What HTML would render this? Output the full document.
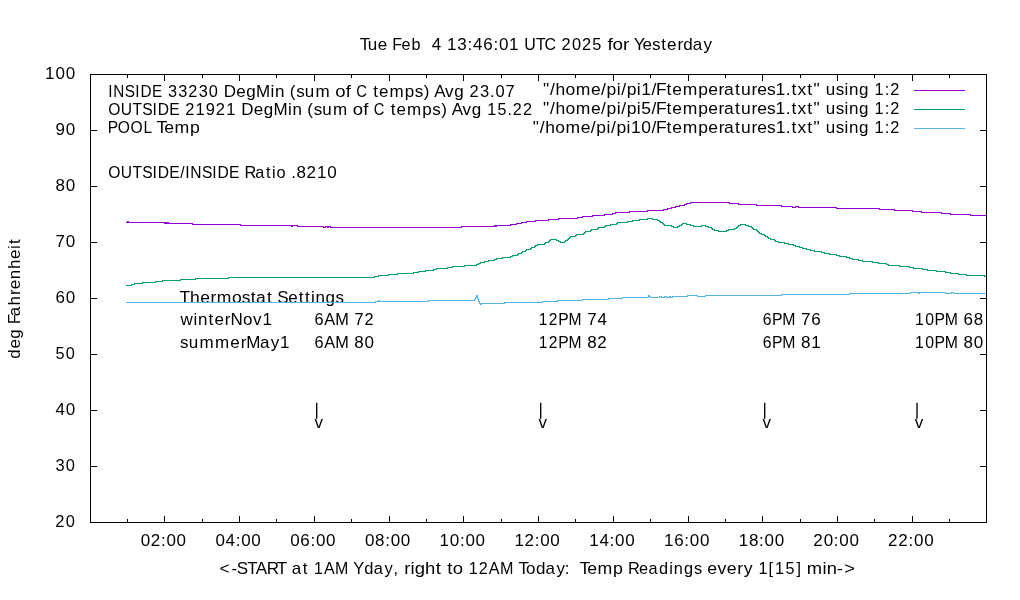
<!DOCTYPE html>
<html><head><meta charset="utf-8"><title>Temperatures</title>
<style>html,body{margin:0;padding:0;background:#fff;overflow:hidden}svg{display:block;will-change:transform}text{font-family:"Liberation Sans", sans-serif;font-size:17px;fill:#000;white-space:pre}</style>
</head><body>
<svg width="1020" height="600" viewBox="0 0 1020 600">
<rect width="1020" height="600" fill="#fff"/>
<g id="labels">
<g transform="translate(107.9 97)">
<text transform="scale(0.9 1)" x="0.28 5.82 18.76 30.28 36.09 49 60.34">INSIDE </text>
<text transform="scale(0.96 1)" x="62.53 73.19 83.63 94.53 105.18 115.24">33230 </text>
<text x="115.84 128.4 138.33 148.13 162.51 167.03 176.82">DegMin </text>
<text x="181.82 188.27 196.95 207.61 222.48">(sum </text>
<text transform="scale(1.09 1)" x="208.61 218.26 223.05">of </text>
<text transform="scale(0.87 1)" x="285.55 298.24">C </text>
<text x="265.34 271.15 281.6 296.97 306.76 315.82 321.37">temps) </text>
<text x="326.31 337.07 346.37 356.3">Avg </text>
<text transform="scale(0.97 1)" x="372.91 383.72 393.97 399.53 410.04">23.07</text>
</g>
<g transform="translate(107.9 115)">
<text transform="scale(0.92 1)" x="0.28 14.04 26.72 37.24 48.59 54.18 66.82 78.05">OUTSIDE </text>
<text transform="scale(0.97 1)" x="79.64 90.32 100.92 111.3 122 132.09">21921 </text>
<text x="133.33 145.89 155.82 165.62 180.01 184.52 194.32">DegMin </text>
<text x="199.32 205.77 214.44 225.11 239.98">(sum </text>
<text transform="scale(1.09 1)" x="224.66 234.31 239.1">of </text>
<text transform="scale(0.87 1)" x="305.66 318.35">C </text>
<text x="282.84 288.65 299.1 314.46 324.26 333.32 338.86">temps) </text>
<text x="343.81 354.56 363.86 373.79">Avg </text>
<text transform="scale(0.95 1)" x="399.42 410.22 420.73 426.23 437">15.22</text>
</g>
<g transform="translate(107.9 133)">
<text transform="scale(0.92 1)" x="-0.08 10.82 24.59 38.63 47.84">POOL </text>
<text transform="scale(1.04 1)" x="46.77 54.13 64.08 78.93">Temp</text>
</g>
<g transform="translate(107.9 177.6)">
<text transform="scale(0.92 1)" x="0.28 14.04 26.72 37.24 48.59 54.18 66.82 78.63 84.16 89.5 102.17 113.51 119.1 131.76 142.99">OUTSIDE/INSIDE </text>
<text transform="scale(0.96 1)" x="142.32 153.43 164.8 170.93 175.56 185.4">Ratio </text>
<text x="183.3 188.61 198.64 209 219.34">.8210</text>
</g>
<g transform="translate(180 303)">
<text transform="scale(1.03 1)" x="-0.42 9.77 19.55 29.72 35.78 50.49 59.92 68.8 73.72 84.5 89.96">Thermostat </text>
<text x="97.31 108.26 118.66 124.96 130.88 135.4 145.48 155.47">Settings</text>
</g>
<g transform="translate(180 325.4)">
<text x="0.44 13.51 18.04 28.59 34.4 44.83 50.54 62.9 73.07 82.39">winterNov1</text>
</g>
<g transform="translate(180 347.8)">
<text x="0.06 8.72 19.38 35.07 50.19 60.63 66.33 79.95 90.72 100.04">summerMay1</text>
</g>
<g transform="translate(314 325.4)">
<text transform="scale(0.96 1)" x="0.57 10.62 22.12 36.38">6AM </text>
<text transform="scale(0.96 1)" x="42.22 52.63">72</text>
</g>
<g transform="translate(314 347.8)">
<text transform="scale(0.96 1)" x="0.57 10.62 22.12 36.38">6AM </text>
<text x="40.37 50.55">80</text>
</g>
<g transform="translate(314 428.4)">
<text x="0.51">v</text>
</g>
<g transform="translate(538 325.4)">
<text transform="scale(0.92 1)" x="0.73 11.63 22.01 33.03 47.62">12PM </text>
<text x="49.22 59.44">74</text>
</g>
<g transform="translate(538 347.8)">
<text transform="scale(0.92 1)" x="0.73 11.63 22.01 33.03 47.62">12PM </text>
<text x="49.25 59.23">82</text>
</g>
<g transform="translate(538 428.4)">
<text x="0.51">v</text>
</g>
<g transform="translate(762 325.4)">
<text transform="scale(0.93 1)" x="0.75 10.76 21.67 36.16">6PM </text>
<text x="39.05 49.25">76</text>
</g>
<g transform="translate(762 347.8)">
<text transform="scale(0.93 1)" x="0.75 10.76 21.67 36.16">6PM </text>
<text x="39.08 49.16">81</text>
</g>
<g transform="translate(762 428.4)">
<text x="0.51">v</text>
</g>
<g transform="translate(914.32 325.4)">
<text transform="scale(0.93 1)" x="0.66 11.68 21.71 32.6 47.11">10PM </text>
<text x="49.25 59.44">68</text>
</g>
<g transform="translate(914.32 347.8)">
<text transform="scale(0.93 1)" x="0.66 11.68 21.71 32.6 47.11">10PM </text>
<text x="49.25 59.44">80</text>
</g>
<g transform="translate(914.32 428.4)">
<text x="0.51">v</text>
</g>
<rect x="316.03" y="402.77" width="1.34" height="16"/>
<rect x="540.03" y="402.77" width="1.34" height="16"/>
<rect x="764.03" y="402.77" width="1.34" height="16"/>
<rect x="916.35" y="402.77" width="1.34" height="16"/>
</g>
<g id="curves" fill="none" stroke-width="1" stroke-linejoin="miter" shape-rendering="crispEdges">
<path d="M126 222.5H127V221.5H128V222.5H164V223.5H165V222.5H166V223.5H167V222.5H168V223.5H192V224.5H240V225.5H291V226.5H292V225.5H297V226.5H323V227.5H325V226.5H327V227.5H328V226.5H330V227.5H461V226.5H494V225.5H495V226.5H496V225.5H510V224.5H516V223.5H521V222.5H526V221.5H535V220.5H548V219.5H558V218.5H577V217.5H582V216.5H592V215.5H604V214.5H612V213.5H615V212.5H629V211.5H647V210.5H663V209.5H667V208.5H671V207.5H675V206.5H679V205.5H684V204.5H686V203.5H690V202.5H729V203.5H738V204.5H756V205.5H781V206.5H792V207.5H795V206.5H798V207.5H836V208.5H879V209.5H894V210.5H912V211.5H921V212.5H941V213.5H950V214.5H970V215.5H987 M914 90.5H965" stroke="#9400d3"/>
<path d="M126 285.5H131V284.5H134V283.5H142V282.5H155V281.5H162V280.5H180V279.5H195V278.5H228V277.5H374V276.5H378V275.5H388V274.5H397V273.5H413V272.5H418V271.5H425V270.5H433V269.5H436V268.5H447V267.5H452V266.5H464V265.5H476V264.5H478V263.5H480V262.5H484V261.5H488V260.5H494V259.5H496V258.5H502V257.5H510V256.5H512V255.5H517V254.5H518V253.5H521V252.5H522V251.5H525V250.5H526V249.5H530V248.5H531V247.5H534V246.5H535V245.5H537V244.5H544V243.5H545V242.5H548V241.5H549V240.5H550V239.5H556V240.5H558V241.5H560V242.5H564V241.5H565V240.5H567V239.5H568V238.5H569V237.5H570V236.5H575V235.5H576V234.5H583V233.5H584V232.5H585V231.5H590V230.5H591V229.5H597V228.5H598V227.5H604V226.5H605V225.5H610V224.5H616V223.5H617V222.5H627V221.5H632V220.5H639V219.5H647V218.5H652V219.5H657V220.5H659V221.5H660V222.5H662V223.5H663V224.5H664V225.5H671V226.5H673V227.5H677V226.5H679V225.5H681V224.5H682V223.5H686V224.5H690V225.5H693V226.5H701V225.5H705V226.5H708V227.5H711V228.5H712V229.5H714V230.5H718V231.5H726V230.5H728V229.5H734V228.5H736V227.5H737V226.5H738V225.5H740V224.5H745V225.5H748V226.5H751V227.5H752V228.5H753V229.5H756V230.5H757V231.5H758V232.5H759V233.5H761V234.5H764V235.5H765V236.5H767V237.5H768V238.5H770V239.5H774V240.5H775V241.5H778V242.5H784V243.5H788V244.5H793V245.5H795V246.5H799V247.5H802V248.5H806V249.5H810V250.5H814V251.5H821V252.5H824V253.5H829V254.5H836V255.5H839V256.5H846V257.5H849V258.5H852V259.5H858V260.5H862V261.5H872V262.5H878V263.5H886V264.5H888V265.5H899V266.5H909V267.5H913V268.5H922V269.5H927V270.5H936V271.5H945V272.5H950V273.5H958V274.5H966V275.5H984V276.5H987 M914 109.5H965" stroke="#009e73"/>
<path d="M126 302.5H375V301.5H378V300.5H379V301.5H428V300.5H474V299.5H475V297.5H476V295.5H477V298.5H478V301.5H479V303.5H480V304.5H481V303.5H504V302.5H542V301.5H557V300.5H582V299.5H608V298.5H622V297.5H648V295.5H649V296.5H650V297.5H659V296.5H661V297.5H664V296.5H666V297.5H669V296.5H670V297.5H672V296.5H687V295.5H697V296.5H705V295.5H781V294.5H849V293.5H910V292.5H918V293.5H919V292.5H945V293.5H951V292.5H953V293.5H987 M914 128.5H965" stroke="#56b4e9"/>
</g>
<g id="axes" stroke="#000" stroke-width="1" fill="none" shape-rendering="crispEdges">
<path d="M127.5 523 v-4 M127.5 74 v4 M164.5 523 v-7 M164.5 74 v7 M202.5 523 v-4 M202.5 74 v4 M239.5 523 v-7 M239.5 74 v7 M276.5 523 v-4 M276.5 74 v4 M314.5 523 v-7 M314.5 74 v7 M351.5 523 v-4 M351.5 74 v4 M389.5 523 v-7 M389.5 74 v7 M426.5 523 v-4 M426.5 74 v4 M463.5 523 v-7 M463.5 74 v7 M501.5 523 v-4 M501.5 74 v4 M538.5 523 v-7 M538.5 74 v7 M575.5 523 v-4 M575.5 74 v4 M613.5 523 v-7 M613.5 74 v7 M650.5 523 v-4 M650.5 74 v4 M688.5 523 v-7 M688.5 74 v7 M725.5 523 v-4 M725.5 74 v4 M762.5 523 v-7 M762.5 74 v7 M800.5 523 v-4 M800.5 74 v4 M837.5 523 v-7 M837.5 74 v7 M874.5 523 v-4 M874.5 74 v4 M912.5 523 v-7 M912.5 74 v7 M949.5 523 v-4 M949.5 74 v4 M90 130.5 h7 M987 130.5 h-7 M90 186.5 h7 M987 186.5 h-7 M90 242.5 h7 M987 242.5 h-7 M90 298.5 h7 M987 298.5 h-7 M90 354.5 h7 M987 354.5 h-7 M90 410.5 h7 M987 410.5 h-7 M90 466.5 h7 M987 466.5 h-7"/>
<rect x="90.5" y="74.5" width="896" height="448"/>
</g>
<g id="text">
<g transform="translate(360 50)">
<text x="-0.27 7.73 17.85 27.49">Tue </text>
<text transform="scale(0.95 1)" x="33.98 43.65 54.32 64.31 69.71">Feb  </text>
<text x="71.72 81.58">4 </text>
<text x="86.99 97.35 107.52 112.98 123.23 133.43 138.89 149.05 158.98">13:46:01 </text>
<text transform="scale(0.94 1)" x="174.71 187.15 196.32 208.52">UTC </text>
<text transform="scale(0.96 1)" x="209.88 220.78 231.22 242.05 252.17">2025 </text>
<text transform="scale(1.12 1)" x="221.06 225.45 234.93 240.48">for </text>
<text x="273.7 282.41 292.11 301.18 307.01 317.44 323.27 332.8 343.57">Yesterday</text>
</g>
<g transform="translate(217.8 574)">
<text x="1.8 13.61 18.89 29.34 38.06 48.99 59.05 69.16">&lt;-START </text>
<text x="73.91 84.95 90.53">at </text>
<text transform="scale(0.94 1)" x="102.41 112.9 124.77 139.27">1AM </text>
<text transform="scale(0.97 1)" x="139.66 150.87 160.74 171.85 181.15 186.33">Yday, </text>
<text transform="scale(1.09 1)" x="170.98 176.79 180.63 190.11 200.02 205.33">right </text>
<text transform="scale(1.09 1)" x="210.54 215.65 224.91">to </text>
<text transform="scale(0.95 1)" x="264.05 274.73 285.22 296.97 311.37">12AM </text>
<text x="300.69 308.27 318.25 327.81 338.61 346.83 351.91 357.04">Today:  </text>
<text transform="scale(1.04 1)" x="347.8 355.17 365.16 380.06 389.62">Temp </text>
<text transform="scale(0.96 1)" x="427.42 438.85 448.53 459.52 470.15 475.02 485.54 495.96 504.47">Readings </text>
<text transform="scale(1.04 1)" x="470.69 480.5 489.43 499.54 505.62 514.47">every </text>
<text transform="scale(0.95 1)" x="569.2 579.75 586.65 597.48 609.27 614.32">1[15] </text>
<text transform="scale(1.08 1)" x="545.36 559.88 563.88 573.18 580.01">min-&gt;</text>
</g>
<g transform="translate(20 298.8) rotate(-90)">
<text x="-60 -49.81 -39.88 -29.94">deg </text>
<text x="-25.43 -17.46 -6.8 3.8 9.53 19.59 29.76 39.84 49.84 54.71">Fahrenheit</text>
</g>
<g transform="translate(75.5 79.3)">
<text x="-30.43 -20.11 -9.86">100</text>
</g>
<g transform="translate(75.5 135.3)">
<text x="-20.14 -9.86">90</text>
</g>
<g transform="translate(75.5 191.3)">
<text x="-20.09 -9.86">80</text>
</g>
<g transform="translate(75.5 247.3)">
<text x="-20.12 -9.86">70</text>
</g>
<g transform="translate(75.5 303.3)">
<text x="-20.09 -9.86">60</text>
</g>
<g transform="translate(75.5 359.3)">
<text transform="scale(0.96 1)" x="-20.8 -10.07">50</text>
</g>
<g transform="translate(75.5 415.3)">
<text x="-20.09 -9.86">40</text>
</g>
<g transform="translate(75.5 471.3)">
<text transform="scale(0.97 1)" x="-20.55 -10.02">30</text>
</g>
<g transform="translate(75.5 527.3)">
<text transform="scale(0.97 1)" x="-20.79 -10.02">20</text>
</g>
<g transform="translate(163.36 546)">
<text x="-22.7 -12.74 -2.36 3.05 13.23">02:00</text>
</g>
<g transform="translate(238.12 546)">
<text x="-22.7 -12.52 -2.36 3.05 13.23">04:00</text>
</g>
<g transform="translate(312.87 546)">
<text x="-22.7 -12.52 -2.36 3.05 13.23">06:00</text>
</g>
<g transform="translate(387.63 546)">
<text x="-22.7 -12.52 -2.36 3.05 13.23">08:00</text>
</g>
<g transform="translate(462.39 546)">
<text x="-22.78 -12.52 -2.36 3.05 13.23">10:00</text>
</g>
<g transform="translate(537.15 546)">
<text x="-22.78 -12.74 -2.36 3.05 13.23">12:00</text>
</g>
<g transform="translate(611.91 546)">
<text x="-22.78 -12.52 -2.36 3.05 13.23">14:00</text>
</g>
<g transform="translate(686.66 546)">
<text x="-22.78 -12.52 -2.36 3.05 13.23">16:00</text>
</g>
<g transform="translate(761.42 546)">
<text x="-22.78 -12.52 -2.36 3.05 13.23">18:00</text>
</g>
<g transform="translate(836.18 546)">
<text x="-22.91 -12.52 -2.36 3.05 13.23">20:00</text>
</g>
<g transform="translate(910.94 546)">
<text x="-22.91 -12.74 -2.36 3.05 13.23">22:00</text>
</g>
<g transform="translate(900 95.4)">
<text transform="scale(1.03 1)" x="-346.7 -339.82 -334.59 -324.86 -314.79 -300.02 -290.25 -284.93 -275.05 -270.73 -265.41 -255.53 -251.32 -241.26 -237.01 -226.62 -221.03 -210.96 -195.99 -186.29 -176.11 -170.9 -160.12 -154.46 -144.08 -138.55 -129.11 -120.76 -110.85 -105.34 -99.53 -89.96 -83.92 -77.31">&quot;/home/pi/pi1/Ftemperatures1.txt&quot; </text>
<text x="-74.17 -64.25 -55.57 -51.04 -40.96 -31.03">using </text>
<text transform="scale(0.96 1)" x="-26.48 -15.86 -10.29">1:2</text>
</g>
<g transform="translate(900 114.4)">
<text transform="scale(1.03 1)" x="-346.7 -339.82 -334.59 -324.86 -314.79 -300.02 -290.25 -284.93 -275.05 -270.73 -265.41 -255.53 -251.29 -241.26 -237.01 -226.62 -221.03 -210.96 -195.99 -186.29 -176.11 -170.9 -160.12 -154.46 -144.08 -138.55 -129.11 -120.76 -110.85 -105.34 -99.53 -89.96 -83.92 -77.31">&quot;/home/pi/pi5/Ftemperatures1.txt&quot; </text>
<text x="-74.17 -64.25 -55.57 -51.04 -40.96 -31.03">using </text>
<text transform="scale(0.96 1)" x="-26.48 -15.86 -10.29">1:2</text>
</g>
<g transform="translate(900 133.4)">
<text transform="scale(1.03 1)" x="-356.64 -349.75 -344.53 -334.8 -324.73 -309.96 -300.19 -294.87 -284.98 -280.67 -275.35 -265.46 -261.26 -251.23 -241.25 -237 -226.61 -221.03 -210.96 -195.98 -186.27 -176.1 -170.88 -160.12 -154.45 -144.07 -138.55 -129.11 -120.75 -110.85 -105.33 -99.53 -89.96 -83.91 -77.3">&quot;/home/pi/pi10/Ftemperatures1.txt&quot; </text>
<text x="-74.17 -64.25 -55.56 -51.04 -40.96 -31.03">using </text>
<text transform="scale(0.96 1)" x="-26.46 -15.86 -10.29">1:2</text>
</g>
</g>
</svg>
</body></html>
